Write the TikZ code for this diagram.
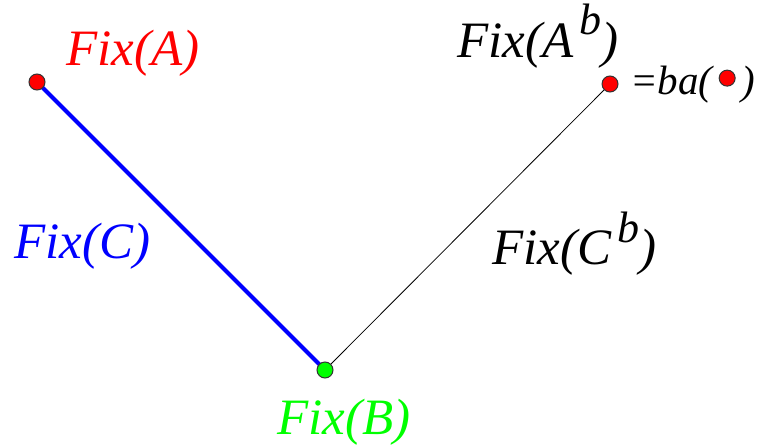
\documentclass[tikz,border=0pt]{standalone}
\usepackage{fontspec}
\setmainfont{Liberation Serif}
\newcommand{\supb}{\hspace{0.12em}\raisebox{22pt}{\fontsize{44}{46}\selectfont b}}
\begin{document}
\begin{tikzpicture}[x=1pt,y=-1pt,
  dot/.style={circle,draw=black!80,line width=1pt,minimum size=16pt,inner sep=0pt},
  lab/.style={inner sep=0pt,anchor=base west,font=\fontsize{51}{54}\selectfont\itshape},
  small/.style={inner sep=0pt,anchor=base west,font=\fontsize{41}{43}\selectfont\itshape}]
\useasboundingbox (0,0) rectangle (762,444);
\draw[blue,line width=4pt] (37,82) -- (325,370);
\draw[black,line width=0.8pt] (325,370) -- (610,84);
\node[dot,fill=red] (a) at (37,82) {};
\node[dot,fill=green] (b) at (325,370) {};
\node[dot,fill=red] (ab) at (610,84) {};
\node[lab,text=red] (la) at (66,65) {Fix(A)};
\node[lab,text=green] (lb) at (277,434) {Fix(B)};
\node[lab,text=blue] (lc) at (14,258) {Fix(C)};
\node[lab] (lab1) at (457,57) {Fix(A\supb)};
\node[lab] (lcb) at (492,264) {Fix(C\supb)};
\node[small] (eq) at (630,94) {=ba(\hspace{0.15em}\raisebox{0.18em}{\tikz\node[circle,draw=black!80,fill=red,line width=1pt,minimum size=16pt,inner sep=0pt]{};}\hspace{0.15em})};
\end{tikzpicture}
\end{document}
